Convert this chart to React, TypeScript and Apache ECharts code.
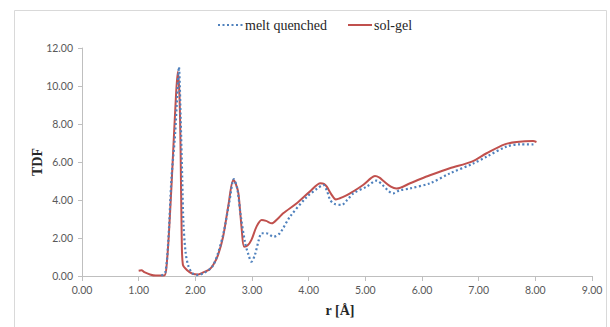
import React, { useEffect, useRef } from "react";
import * as echarts from "echarts";

const seriesNames = ["melt quenched", "sol-gel"];

const rMelt = [1.40, 1.47, 1.52, 1.58, 1.64, 1.68, 1.71, 1.74, 1.77, 1.79, 1.83, 1.88, 1.95, 2.02, 2.15, 2.30, 2.40, 2.50, 2.60, 2.68, 2.74, 2.80, 2.88, 2.94, 2.99, 3.05, 3.12, 3.17, 3.25, 3.38, 3.49, 3.67, 3.97, 4.15, 4.26, 4.32, 4.38, 4.45, 4.58, 4.68, 4.79, 5.02, 5.20, 5.30, 5.40, 5.49, 5.60, 5.79, 6.14, 6.49, 6.91, 7.14, 7.49, 7.73, 8.00];
const tdfMelt = [0.02, 0.20, 1.72, 5.20, 7.33, 9.50, 11.00, 8.40, 5.00, 2.77, 1.20, 0.50, 0.15, 0.05, 0.15, 0.50, 1.20, 2.30, 3.90, 5.10, 4.60, 3.20, 1.72, 1.10, 0.75, 1.10, 1.90, 2.25, 2.25, 2.07, 2.25, 3.12, 4.17, 4.60, 4.79, 4.50, 4.00, 3.80, 3.74, 4.00, 4.35, 4.70, 5.02, 4.80, 4.50, 4.35, 4.50, 4.61, 4.88, 5.40, 5.93, 6.28, 6.81, 6.93, 6.92];

const rSolGel = [1.00, 1.05, 1.10, 1.20, 1.30, 1.45, 1.50, 1.55, 1.60, 1.65, 1.69, 1.72, 1.74, 1.76, 1.78, 1.85, 1.95, 2.05, 2.15, 2.25, 2.32, 2.40, 2.49, 2.58, 2.67, 2.72, 2.76, 2.82, 2.86, 2.92, 2.99, 3.08, 3.17, 3.25, 3.35, 3.45, 3.55, 3.79, 4.02, 4.21, 4.27, 4.32, 4.40, 4.48, 4.60, 4.73, 4.96, 5.10, 5.17, 5.25, 5.32, 5.45, 5.55, 5.79, 5.96, 6.14, 6.49, 6.88, 7.14, 7.46, 7.67, 7.96, 8.02];
const tdfSolGel = [0.28, 0.30, 0.20, 0.08, 0.02, 0.02, 0.80, 3.10, 6.00, 9.00, 10.75, 9.50, 6.60, 2.00, 0.60, 0.32, 0.12, 0.08, 0.20, 0.35, 0.60, 1.10, 2.07, 3.65, 5.05, 4.80, 4.35, 2.42, 1.54, 1.60, 1.90, 2.60, 2.95, 2.90, 2.77, 3.00, 3.30, 3.83, 4.44, 4.88, 4.85, 4.70, 4.30, 4.03, 4.15, 4.35, 4.79, 5.15, 5.26, 5.18, 5.00, 4.70, 4.60, 4.88, 5.09, 5.30, 5.67, 6.02, 6.46, 6.93, 7.05, 7.10, 7.05];

const xTitle = "r [Å]";
const yTitle = "TDF";

const serif = "Liberation Serif";
const blue = "#4f81bd";
const red = "#c0504d";

export default function App() {
  const ref = useRef<HTMLDivElement>(null);
  useEffect(() => {
    if (!ref.current) return;
    const chart = echarts.init(ref.current, undefined, { renderer: "svg" });
    const labelStyle = { color: "#595959", fontFamily: "Lato", fontSize: 10.5 };
    const legendText = (text: string, x: number) => ({
      type: "text",
      x,
      y: 25,
      style: {
        text,
        fontFamily: serif,
        fontSize: 14,
        fill: "#262626",
        align: "left",
        verticalAlign: "middle",
      },
    });
    chart.setOption({
      animation: false,
      backgroundColor: "#ffffff",
      graphic: [
        {
          type: "rect",
          shape: { x: 14.5, y: 10.5, width: 592, height: 330 },
          style: { fill: "none", stroke: "#d9d9d9", lineWidth: 1 },
          silent: true,
        },
        {
          type: "line",
          shape: { x1: 218, y1: 25, x2: 243, y2: 25 },
          style: { stroke: blue, lineWidth: 2.2, lineDash: [2, 2.5] },
        },
        legendText(seriesNames[0], 245),
        {
          type: "line",
          shape: { x1: 348, y1: 25, x2: 372, y2: 25 },
          style: { stroke: red, lineWidth: 2 },
        },
        legendText(seriesNames[1], 374),
        {
          type: "text",
          x: 37,
          y: 162,
          rotation: Math.PI / 2,
          style: {
            text: yTitle,
            fontFamily: serif,
            fontWeight: "bold",
            fontSize: 14,
            fill: "#262626",
            align: "center",
            verticalAlign: "middle",
          },
        },
        {
          type: "text",
          x: 340,
          y: 310,
          style: {
            text: xTitle,
            fontFamily: serif,
            fontWeight: "bold",
            fontSize: 14,
            fill: "#262626",
            align: "center",
            verticalAlign: "middle",
          },
        },
      ],
      legend: { show: false, data: seriesNames },
      grid: { left: 82, right: 18, top: 48, bottom: 51, containLabel: false },
      xAxis: {
        type: "value",
        min: 0,
        max: 9,
        interval: 1,
        axisLine: { show: true, lineStyle: { color: "#bfbfbf", width: 1 } },
        axisTick: { show: true, length: 5, lineStyle: { color: "#bfbfbf" } },
        splitLine: { show: false },
        axisLabel: { ...labelStyle, margin: 8, formatter: (v: number) => v.toFixed(2) },
      },
      yAxis: {
        type: "value",
        min: 0,
        max: 12,
        interval: 2,
        axisLine: { show: true, lineStyle: { color: "#bfbfbf", width: 1 } },
        axisTick: { show: true, length: 4, lineStyle: { color: "#bfbfbf" } },
        splitLine: { show: false },
        axisLabel: { ...labelStyle, margin: 9, formatter: (v: number) => v.toFixed(2) },
      },
      series: [
        {
          name: seriesNames[0],
          type: "line",
          data: rMelt.map((r, i) => [r, tdfMelt[i]]),
          symbol: "none",
          smooth: 0.3,
          z: 3,
          itemStyle: { color: blue },
          lineStyle: { color: blue, width: 2.2, type: [2, 2.5] },
        },
        {
          name: seriesNames[1],
          type: "line",
          data: rSolGel.map((r, i) => [r, tdfSolGel[i]]),
          symbol: "none",
          smooth: 0.3,
          z: 2,
          itemStyle: { color: red },
          lineStyle: { color: red, width: 2 },
        },
      ],
    });
    return () => chart.dispose();
  }, []);
  return (
    <div
      ref={ref}
      style={{ position: "fixed", left: 0, top: 0, width: 610, height: 327 }}
    />
  );
}
